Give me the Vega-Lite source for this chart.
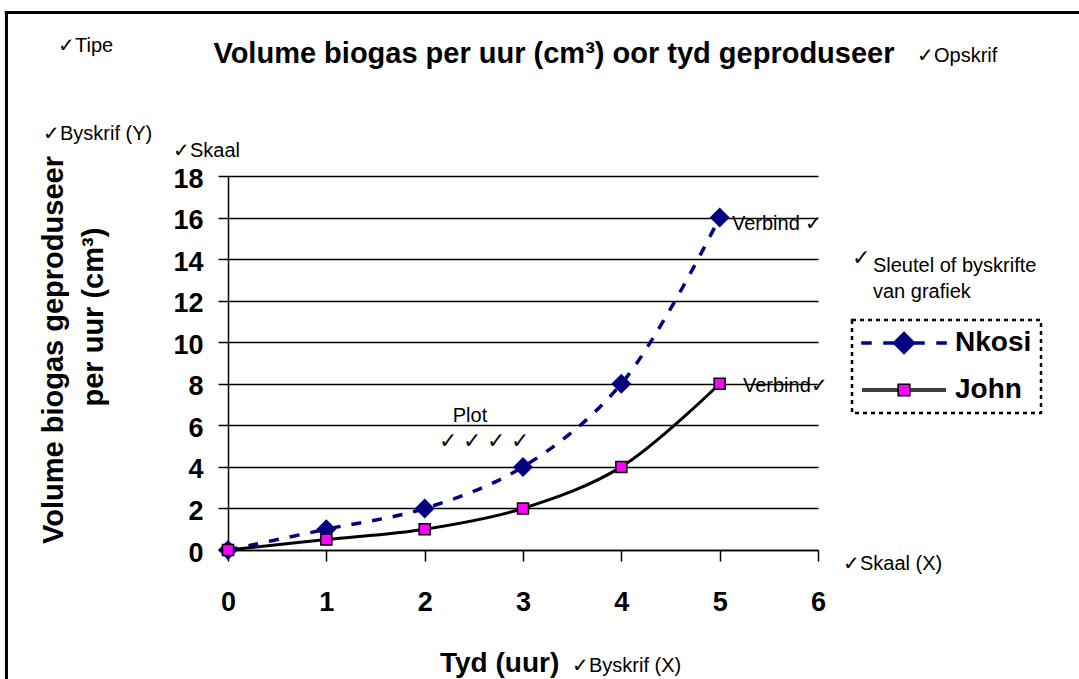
{
  "$schema": "https://vega.github.io/schema/vega-lite/v6.json",
  "width": 590,
  "height": 374,
  "autosize": {"type": "none"},
  "padding": {"left": 228, "top": 176, "right": 261, "bottom": 129},
  "background": "white",
  "config": {
    "font": "Liberation Sans",
    "view": {"stroke": null},
    "axis": {
      "domainColor": "black", "domainWidth": 1.5,
      "tickColor": "black", "tickWidth": 1.5, "labelFlush": false,
      "labelFont": "Liberation Sans", "labelFontSize": 27, "labelFontWeight": "bold", "labelColor": "black"
    },
    "legend": {
      "strokeColor": "black", "strokeDash": [4, 4], "strokeWidth": 2.5, "fillColor": "white", "padding": 9,
      "symbolSize": 324, "symbolStrokeWidth": 1.5, "symbolOpacity": 1, "symbolOffset": 29, "labelOffset": 37,
      "labelFont": "Liberation Sans", "labelFontSize": 28, "labelFontWeight": "bold", "labelColor": "black",
      "rowPadding": 19, "labelLimit": 400
    }
  },
  "data": {"values": [
    {"series": "Nkosi", "hour": 0, "volume": 0},
    {"series": "Nkosi", "hour": 1, "volume": 1},
    {"series": "Nkosi", "hour": 2, "volume": 2},
    {"series": "Nkosi", "hour": 3, "volume": 4},
    {"series": "Nkosi", "hour": 4, "volume": 8},
    {"series": "Nkosi", "hour": 5, "volume": 16},
    {"series": "John", "hour": 0, "volume": 0},
    {"series": "John", "hour": 1, "volume": 0.5},
    {"series": "John", "hour": 2, "volume": 1},
    {"series": "John", "hour": 3, "volume": 2},
    {"series": "John", "hour": 4, "volume": 4},
    {"series": "John", "hour": 5, "volume": 8}
  ]},
  "layer": [
    {
      "transform": [{"filter": "datum.series === 'Nkosi'"}],
      "mark": {"type": "line", "interpolate": "catmull-rom", "color": "#000080", "strokeWidth": 3.5, "strokeDash": [10, 11]},
      "encoding": {
        "x": {"field": "hour", "type": "quantitative", "scale": {"domain": [0, 6], "nice": false},
          "axis": {"title": null, "values": [0, 1, 2, 3, 4, 5, 6], "format": "d", "grid": false, "tickSize": 11, "labelPadding": 28}},
        "y": {"field": "volume", "type": "quantitative", "scale": {"domain": [0, 18], "nice": false},
          "axis": {"title": null, "values": [0, 2, 4, 6, 8, 10, 12, 14, 16, 18], "format": "d", "grid": true, "gridColor": "black", "gridWidth": 1.5, "gridOpacity": 1, "tickSize": 10, "labelPadding": 15, "labelOffset": 3}}
      }
    },
    {
      "transform": [{"filter": "datum.series === 'John'"}],
      "mark": {"type": "line", "interpolate": "catmull-rom", "color": "black", "strokeWidth": 3},
      "encoding": {
        "x": {"field": "hour", "type": "quantitative"},
        "y": {"field": "volume", "type": "quantitative"}
      }
    },
    {
      "transform": [{"filter": "datum.series === 'Nkosi'"}],
      "mark": {"type": "point", "shape": "diamond", "filled": true, "size": 400, "color": "#000080", "opacity": 1},
      "encoding": {
        "x": {"field": "hour", "type": "quantitative"},
        "y": {"field": "volume", "type": "quantitative"}
      }
    },
    {
      "transform": [{"filter": "datum.series === 'John'"}],
      "mark": {"type": "point", "shape": "square", "filled": true, "size": 121, "fill": "#FF00FF", "stroke": "black", "strokeWidth": 1.5, "opacity": 1},
      "encoding": {
        "x": {"field": "hour", "type": "quantitative"},
        "y": {"field": "volume", "type": "quantitative"}
      }
    },
    {
      "mark": {"type": "point", "filled": true, "size": 324, "clip": true, "strokeWidth": 1.5},
      "encoding": {
        "x": {"datum": -10, "type": "quantitative"},
        "y": {"datum": -10, "type": "quantitative"},
        "fill": {"field": "series", "type": "nominal",
          "scale": {"domain": ["Nkosi", "John"], "range": ["#000080", "#FF00FF"]},
          "legend": {"orient": "none", "legendX": 624, "legendY": 144, "title": null}},
        "stroke": {"field": "series", "type": "nominal",
          "scale": {"domain": ["Nkosi", "John"], "range": ["#000080", "#000000"]},
          "legend": {"orient": "none", "legendX": 624, "legendY": 144, "title": null}},
        "shape": {"field": "series", "type": "nominal",
          "scale": {"domain": ["Nkosi", "John"], "range": [
            "M-4.67,-0.12H-3.67V0.12H-4.67Z M-2.22,-0.12H-1.1V0.12H-2.22Z M0,-1.2L1.2,0L0,1.2L-1.2,0Z M1.1,-0.12H2.22V0.12H1.1Z M3.67,-0.12H4.67V0.12H3.67Z",
            "M-4.67,-0.1H-0.65 M-4.67,0.1H-0.65 M0.65,-0.1H4.67 M0.65,0.1H4.67 M-0.65,-0.65H0.65V0.65H-0.65Z"]},
          "legend": {"orient": "none", "legendX": 624, "legendY": 144, "title": null}}
      }
    },
    {
      "data": {"values": [{}]},
      "mark": {"type": "rule", "color": "black", "strokeWidth": 3},
      "encoding": {
        "x": {"datum": -2.27, "type": "quantitative"},
        "x2": {"datum": 8.7},
        "y": {"datum": 25.87, "type": "quantitative"}
      }
    },
    {
      "data": {"values": [{}]},
      "mark": {"type": "rule", "color": "black", "strokeWidth": 3},
      "encoding": {
        "x": {"datum": -2.253, "type": "quantitative"},
        "y": {"datum": 25.94, "type": "quantitative"},
        "y2": {"datum": -6.4}
      }
    },
    {
      "data": {"values": [{}]},
      "mark": {"type": "text", "text": "Volume biogas per uur (cm³) oor tyd geproduseer", "align": "center", "baseline": "alphabetic", "font": "Liberation Sans", "fontSize": 29, "fontWeight": "bold", "color": "black"},
      "encoding": {"x": {"datum": 3.315, "type": "quantitative"}, "y": {"datum": 23.44, "type": "quantitative"}}
    },
    {
      "data": {"values": [{}]},
      "mark": {"type": "text", "text": "✓Tipe", "align": "left", "baseline": "alphabetic", "font": "Liberation Sans", "fontSize": 20, "color": "black"},
      "encoding": {"x": {"datum": -1.729, "type": "quantitative"}, "y": {"datum": 23.97, "type": "quantitative"}}
    },
    {
      "data": {"values": [{}]},
      "mark": {"type": "text", "text": "✓Opskrif", "align": "left", "baseline": "alphabetic", "font": "Liberation Sans", "fontSize": 20, "color": "black"},
      "encoding": {"x": {"datum": 7.007, "type": "quantitative"}, "y": {"datum": 23.49, "type": "quantitative"}}
    },
    {
      "data": {"values": [{}]},
      "mark": {"type": "text", "text": "✓Byskrif (Y)", "align": "left", "baseline": "alphabetic", "font": "Liberation Sans", "fontSize": 20, "color": "black"},
      "encoding": {"x": {"datum": -1.881, "type": "quantitative"}, "y": {"datum": 19.73, "type": "quantitative"}}
    },
    {
      "data": {"values": [{}]},
      "mark": {"type": "text", "text": "✓Skaal", "align": "left", "baseline": "alphabetic", "font": "Liberation Sans", "fontSize": 20, "color": "black"},
      "encoding": {"x": {"datum": -0.559, "type": "quantitative"}, "y": {"datum": 18.91, "type": "quantitative"}}
    },
    {
      "data": {"values": [{}]},
      "mark": {"type": "text", "text": "Plot", "align": "center", "baseline": "alphabetic", "font": "Liberation Sans", "fontSize": 20, "color": "black"},
      "encoding": {"x": {"datum": 2.461, "type": "quantitative"}, "y": {"datum": 6.16, "type": "quantitative"}}
    },
    {
      "data": {"values": [{}]},
      "mark": {"type": "text", "text": "✓ ✓ ✓ ✓", "align": "center", "baseline": "alphabetic", "font": "Liberation Sans", "fontSize": 22, "color": "black"},
      "encoding": {"x": {"datum": 2.603, "type": "quantitative"}, "y": {"datum": 4.91, "type": "quantitative"}}
    },
    {
      "data": {"values": [{}]},
      "mark": {"type": "text", "text": "Verbind ✓", "align": "left", "baseline": "alphabetic", "font": "Liberation Sans", "fontSize": 20, "color": "black"},
      "encoding": {"x": {"datum": 5.125, "type": "quantitative"}, "y": {"datum": 15.4, "type": "quantitative"}}
    },
    {
      "data": {"values": [{}]},
      "mark": {"type": "text", "text": "Verbind✓", "align": "left", "baseline": "alphabetic", "font": "Liberation Sans", "fontSize": 20, "color": "black"},
      "encoding": {"x": {"datum": 5.237, "type": "quantitative"}, "y": {"datum": 7.6, "type": "quantitative"}}
    },
    {
      "data": {"values": [{}]},
      "mark": {"type": "text", "text": "✓", "align": "left", "baseline": "alphabetic", "font": "Liberation Sans", "fontSize": 22, "color": "black"},
      "encoding": {"x": {"datum": 6.346, "type": "quantitative"}, "y": {"datum": 13.72, "type": "quantitative"}}
    },
    {
      "data": {"values": [{}]},
      "mark": {"type": "text", "text": ["Sleutel of byskrifte", "van grafiek"], "lineHeight": 26, "align": "left", "baseline": "alphabetic", "font": "Liberation Sans", "fontSize": 20, "color": "black"},
      "encoding": {"x": {"datum": 6.559, "type": "quantitative"}, "y": {"datum": 13.38, "type": "quantitative"}}
    },
    {
      "data": {"values": [{}]},
      "mark": {"type": "text", "text": "✓Skaal (X)", "align": "left", "baseline": "alphabetic", "font": "Liberation Sans", "fontSize": 20, "color": "black"},
      "encoding": {"x": {"datum": 6.254, "type": "quantitative"}, "y": {"datum": -0.963, "type": "quantitative"}}
    },
    {
      "data": {"values": [{}]},
      "mark": {"type": "text", "text": "Tyd (uur)", "align": "left", "baseline": "alphabetic", "font": "Liberation Sans", "fontSize": 28, "fontWeight": "bold", "color": "black"},
      "encoding": {"x": {"datum": 2.156, "type": "quantitative"}, "y": {"datum": -5.872, "type": "quantitative"}}
    },
    {
      "data": {"values": [{}]},
      "mark": {"type": "text", "text": "✓Byskrif (X)", "align": "left", "baseline": "alphabetic", "font": "Liberation Sans", "fontSize": 20, "color": "black"},
      "encoding": {"x": {"datum": 3.498, "type": "quantitative"}, "y": {"datum": -5.872, "type": "quantitative"}}
    },
    {
      "data": {"values": [{}]},
      "mark": {"type": "text", "text": "Volume biogas geproduseer", "angle": 270, "align": "center", "baseline": "alphabetic", "font": "Liberation Sans", "fontSize": 29, "fontWeight": "bold", "color": "black"},
      "encoding": {"x": {"datum": -1.678, "type": "quantitative"}, "y": {"datum": 9.626, "type": "quantitative"}}
    },
    {
      "data": {"values": [{}]},
      "mark": {"type": "text", "text": "per uur (cm³)", "angle": 270, "align": "center", "baseline": "alphabetic", "font": "Liberation Sans", "fontSize": 29, "fontWeight": "bold", "color": "black"},
      "encoding": {"x": {"datum": -1.271, "type": "quantitative"}, "y": {"datum": 11.21, "type": "quantitative"}}
    }
  ]
}
